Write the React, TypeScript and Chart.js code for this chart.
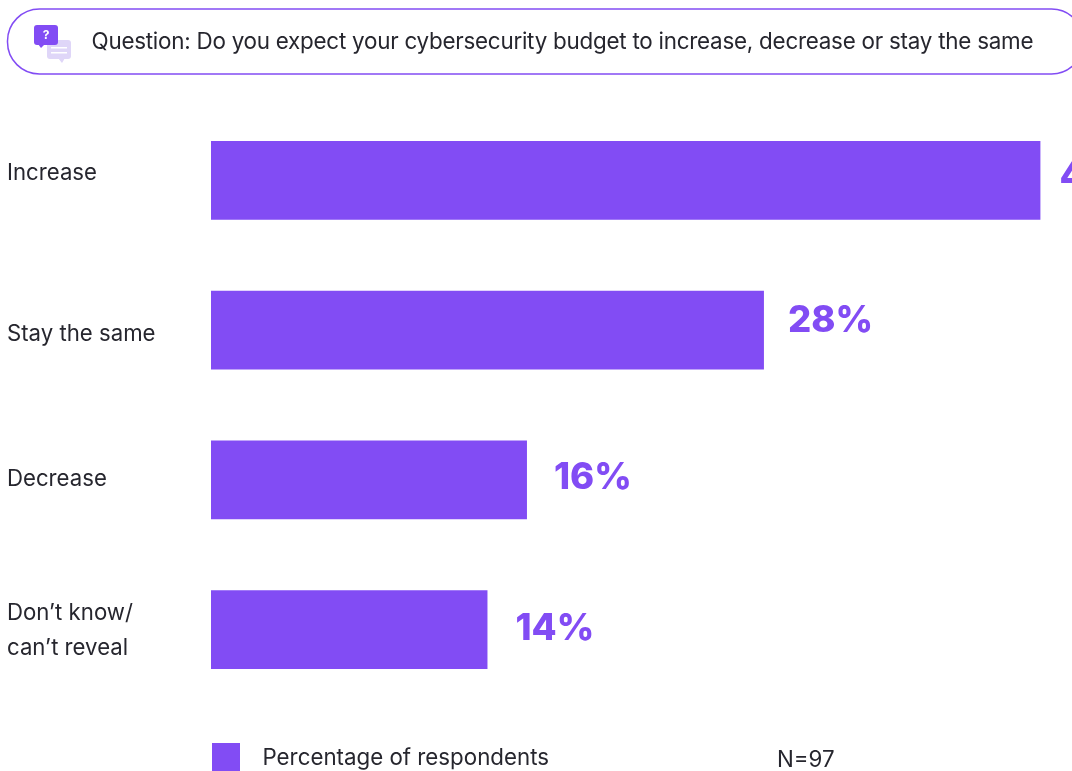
import React, { useEffect, useRef } from "react";
import { Chart, registerables } from "chart.js";

Chart.register(...registerables);

const categories = ["Increase", "Stay the same", "Decrease", "Don’t know/\ncan’t reveal"];
const respondents = [42, 28, 16, 14];
const seriesName = "Percentage of respondents";
const question = "Question: Do you expect your cybersecurity budget to increase, decrease or stay the same";
const sampleNote = "N=97";

const PURPLE = "#824CF4";
const INK = "#26262E";
const TEXT_FONT = "Inter, 'Noto Sans', sans-serif";
const categoryNudge = [-7, 4, -1, 1];
const valueGap = [19, 24, 27, 28];
const valueNudge = [-3, -9, -2, -1];

function roundedBox(ctx: CanvasRenderingContext2D, x: number, y: number, w: number, h: number, r: number) {
  ctx.beginPath();
  ctx.roundRect(x, y, w, h, r);
}

function drawBadge(ctx: CanvasRenderingContext2D) {
  // Pale answer bubble behind the question bubble
  ctx.fillStyle = "#DFD6F8";
  roundedBox(ctx, 47, 40, 24, 19, 3);
  ctx.fill();
  ctx.beginPath();
  ctx.moveTo(58, 58);
  ctx.lineTo(62, 63);
  ctx.lineTo(65, 58);
  ctx.fill();
  ctx.fillStyle = "#FFFFFF";
  ctx.fillRect(51, 47, 16, 1.5);
  ctx.fillRect(51, 52, 16, 1.5);

  ctx.fillStyle = PURPLE;
  roundedBox(ctx, 34, 25, 24, 20, 3);
  ctx.fill();
  ctx.beginPath();
  ctx.moveTo(38, 44);
  ctx.lineTo(41, 48);
  ctx.lineTo(45, 44);
  ctx.fill();
  ctx.fillStyle = "#FFFFFF";
  ctx.font = `700 12px ${TEXT_FONT}`;
  ctx.textAlign = "center";
  ctx.textBaseline = "middle";
  ctx.fillText("?", 46, 35);
}

const decorations = {
  id: "decorations",
  afterDatasetsDraw(chart: Chart) {
    const ctx = chart.ctx;
    const yScale = chart.scales.y;
    const xScale = chart.scales.x;
    ctx.save();

    // Question banner
    ctx.strokeStyle = PURPLE;
    ctx.lineWidth = 1.5;
    roundedBox(ctx, 7.5, 9, 1076, 65, 32);
    ctx.stroke();
    drawBadge(ctx);
    ctx.fillStyle = INK;
    ctx.textAlign = "left";
    ctx.textBaseline = "middle";
    ctx.font = `400 22.4px ${TEXT_FONT}`;
    (ctx as any).letterSpacing = "-0.24px";
    ctx.fillText(question, 91.5, 42);
    (ctx as any).letterSpacing = "0px";

    // Category names, set flush left of the bars
    ctx.font = `400 22.2px ${TEXT_FONT}`;
    categories.forEach((name, i) => {
      const lines = name.split("\n");
      const mid = yScale.getPixelForTick(i) + categoryNudge[i];
      lines.forEach((line, k) => {
        ctx.fillText(line, 7, mid + (k - (lines.length - 1) / 2) * 35);
      });
    });

    // Value labels next to each bar
    ctx.fillStyle = PURPLE;
    ctx.font = `800 36.5px ${TEXT_FONT}`;
    respondents.forEach((value, i) => {
      ctx.fillText(`${value}%`, xScale.getPixelForValue(value) + valueGap[i], yScale.getPixelForTick(i) + valueNudge[i]);
    });

    // Legend row and sample size
    ctx.fillStyle = PURPLE;
    ctx.fillRect(212, 743, 28, 28);
    ctx.fillStyle = INK;
    ctx.font = `400 22.3px ${TEXT_FONT}`;
    ctx.fillText(seriesName, 262.5, 758);
    ctx.fillText(sampleNote, 777, 760);
    ctx.restore();
  },
};

export default function App() {
  const canvasRef = useRef<HTMLCanvasElement | null>(null);

  useEffect(() => {
    document.body.style.margin = "0";
    document.body.style.background = "#FFFFFF";
    const chart = new Chart(canvasRef.current as HTMLCanvasElement, {
      type: "bar",
      data: {
        labels: categories,
        datasets: [
          {
            label: seriesName,
            data: respondents,
            backgroundColor: PURPLE,
            categoryPercentage: 1,
            barPercentage: 0.5275,
          },
        ],
      },
      plugins: [decorations],
      options: {
        indexAxis: "y",
        animation: false,
        responsive: false,
        layout: { padding: { left: 211, right: 0, top: 105.5, bottom: 66.5 } },
        scales: {
          x: { display: false, min: 0, max: 43.6, grid: { display: false } },
          y: { display: false, grid: { display: false } },
        },
        plugins: { legend: { display: false }, tooltip: { enabled: false } },
      },
    });
    return () => chart.destroy();
  }, []);

  return <canvas ref={canvasRef} width={1072} height={771} style={{ display: "block" }} />;
}
